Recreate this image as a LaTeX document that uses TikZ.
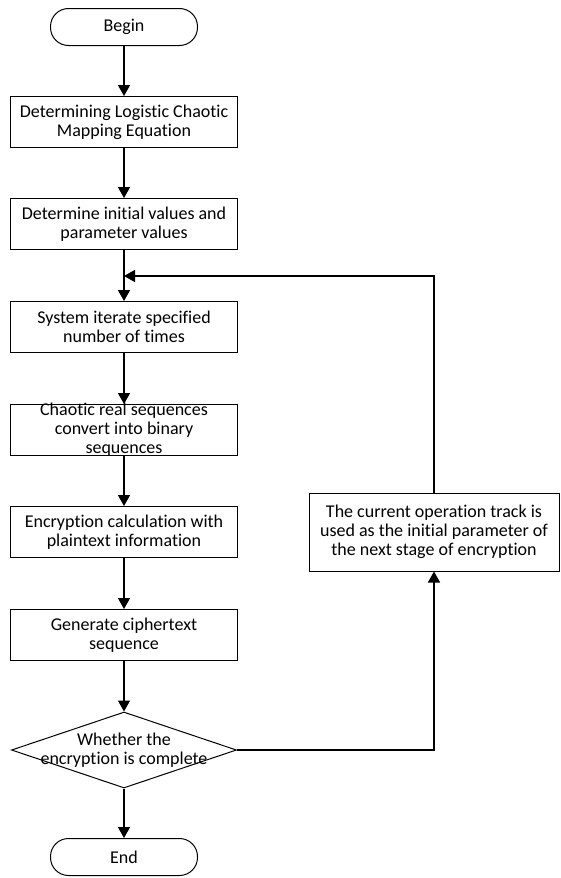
\documentclass[tikz,border=0pt]{standalone}
\usepackage{fontspec}
\setmainfont{Carlito}[Ligatures={NoCommon,NoDiscretionary}]
\usetikzlibrary{shapes.geometric,arrows.meta,positioning}

\begin{document}
\begin{tikzpicture}[x=1pt,y=-1pt,
    font=\fontsize{18}{19}\selectfont,
    proc/.style={draw, line width=1pt, minimum width=227pt, minimum height=51pt, inner ysep=0pt, align=center},
    term/.style={draw, line width=1pt, rounded corners=18pt, minimum width=147pt, minimum height=37pt},
    decide/.style={draw, line width=1pt, diamond, minimum width=225pt, minimum height=76pt},
    flow/.style={line width=1.5pt, -{Triangle[length=11pt,width=12pt]}}]
    \useasboundingbox (0,0) rectangle (560,878);
    % main column
    \node[term](start) at (124,27){Begin};
    \node[proc](eqn) at (124,122){Determining Logistic Chaotic\\Mapping Equation};
    \node[proc](init) at (124,224){Determine initial values and\\parameter values};
    \node[proc](iter) at (124,327){System iterate specified\\number of times};
    \node[proc, inner ysep=-2.5pt](conv) at (124,430){Chaotic real sequences\\convert into binary\\sequences};
    \node[proc](calc) at (124,532){Encryption calculation with\\plaintext information};
    \node[proc](gen) at (124,635){Generate ciphertext\\sequence};
    \node[decide, label={[align=center]center:Whether the\\encryption is complete}](done) at (124,750){};
    \node[term](stop) at (124,857){End};
    % feedback branch
    \node[proc, minimum width=250pt, minimum height=78pt](track) at (434,532){The current operation track is\\used as the initial parameter of\\the next stage of encryption};
    \coordinate(merge) at (124,276);

    \draw[flow] (start) -- (eqn);
    \draw[flow] (eqn) -- (init);
    \draw[flow] (init) -- (iter);
    \draw[flow] (iter) -- (conv);
    \draw[flow] (conv) -- (calc);
    \draw[flow] (calc) -- (gen);
    \draw[flow] (gen) -- (done);
    \draw[flow] (done) -- (stop);
    \draw[flow] (done.east) -| (track.south);
    \draw[flow] (track.north) |- (merge);
\end{tikzpicture}
\end{document}
